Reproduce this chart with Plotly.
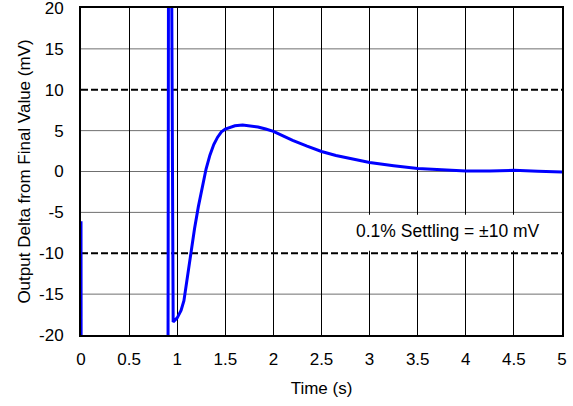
import plotly.graph_objects as go

# Time (s) and output delta (mV)
time_s = [0.0, 0.002, 0.904, 0.910, 0.940, 0.958, 1.00, 1.04, 1.07, 1.10, 1.14,
          1.18, 1.22, 1.26, 1.30, 1.34, 1.38, 1.42, 1.46, 1.50, 1.55, 1.60,
          1.68, 1.76, 1.84, 1.92, 2.00, 2.10, 2.20, 2.35, 2.50, 2.65, 2.80,
          3.00, 3.25, 3.50, 3.75, 4.00, 4.25, 4.50, 4.75, 5.00]
delta_mv = [-6.1, -30.0, -30.0, 30.0, 30.0, -18.4, -17.9, -17.0, -15.8, -13.3, -10.0,
            -7.0, -4.3, -1.8, 0.3, 2.0, 3.3, 4.2, 4.85, 5.2, 5.45, 5.6,
            5.7, 5.6, 5.45, 5.2, 4.9, 4.35, 3.8, 3.1, 2.45, 1.95, 1.55,
            1.1, 0.7, 0.36, 0.2, 0.05, 0.05, 0.15, 0.02, -0.05]

x_ticks = [0, 0.5, 1, 1.5, 2, 2.5, 3, 3.5, 4, 4.5, 5]
x_tick_labels = ["0", "0.5", "1", "1.5", "2", "2.5", "3", "3.5", "4", "4.5", "5"]
y_ticks = [-20, -15, -10, -5, 0, 5, 10, 15, 20]
y_tick_labels = ["-20", "-15", "-10", "-5", "0", "5", "10", "15", "20"]

settle_limits = [10, -10]
annotation_text = "0.1% Settling = ±10 mV"

FONT = "Arial, 'Liberation Sans', sans-serif"
FS = 17

fig = go.Figure()
fig.add_trace(go.Scatter(x=time_s, y=delta_mv, mode="lines",
                         line=dict(color="#0000FF", width=3), showlegend=False))

# horizontal gridlines (solid gray) except at the settling limits
for yv in y_ticks:
    if yv in settle_limits or yv in (-20, 20):
        continue
    fig.add_shape(type="line", xref="paper", x0=0, x1=1, y0=yv, y1=yv,
                  line=dict(color="#6f6f6f", width=1), layer="below")

# white box behind annotation (hides vertical gridlines)
fig.add_shape(type="rect", x0=2.52, x1=4.99, y0=-9.7, y1=-5.3,
              fillcolor="white", line=dict(width=0), layer="between")

for lim in settle_limits:
    fig.add_shape(type="line", xref="paper", x0=0, x1=1, y0=lim, y1=lim,
                  line=dict(color="black", width=2, dash="7px,3px"), layer="between")

fig.add_annotation(x=3.81, y=-7.3, text=annotation_text, showarrow=False,
                   font=dict(family=FONT, size=17.5, color="black"))

fig.update_layout(
    width=573, height=406,
    margin=dict(l=81, r=11, t=8, b=71),
    paper_bgcolor="white", plot_bgcolor="white",
    font=dict(family=FONT, size=FS, color="black"),
)
fig.update_xaxes(range=[0, 5], tickvals=x_ticks, ticktext=x_tick_labels,
                 showgrid=True, gridcolor="black", gridwidth=1,
                 showline=True, linecolor="black", linewidth=2, mirror=True,
                 zeroline=False, ticks="", ticklabelstandoff=8, automargin=False,
                 ticklabeloverflow="allow",
                 title=dict(text="Time (s)", font=dict(size=FS), standoff=14))
fig.update_yaxes(range=[-20, 20], tickvals=y_ticks, ticktext=y_tick_labels,
                 showgrid=False,
                 showline=True, linecolor="black", linewidth=2, mirror=True,
                 zeroline=False, ticks="", ticklabelstandoff=12, automargin=False,
                 ticklabeloverflow="allow",
                 title=dict(text="Output Delta from Final Value (mV)", font=dict(size=FS), standoff=4))

fig.write_html("out.html", config={"displayModeBar": False},
               post_script="document.body.style.margin='0';document.body.style.overflow='hidden';")
